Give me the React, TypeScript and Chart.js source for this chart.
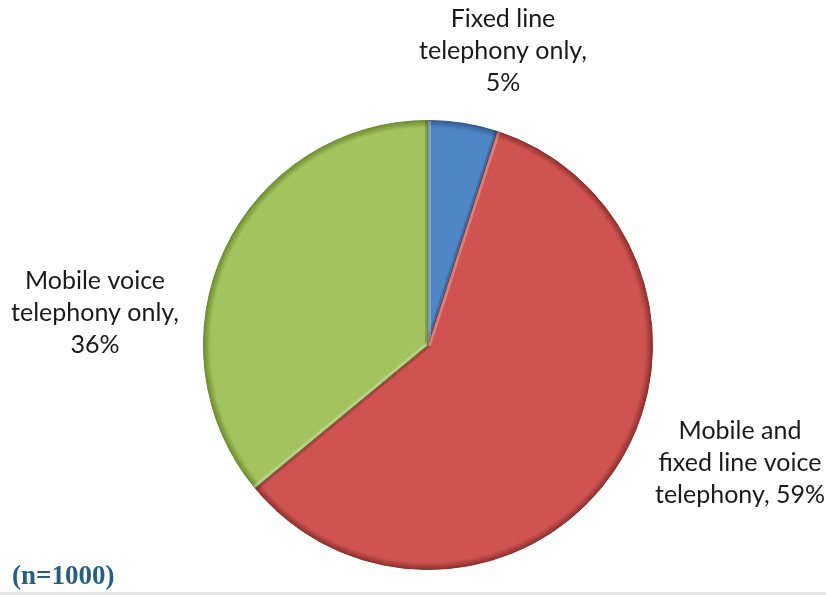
import React, { useEffect, useRef } from "react";
import { Chart, registerables } from "chart.js";

Chart.register(...registerables);

const categories = [
  "Fixed line telephony only",
  "Mobile and fixed line voice telephony",
  "Mobile voice telephony only",
];
const shares = [5, 59, 36];
const labelLines = [
  ["Fixed line", "telephony only,", "5%"],
  ["Mobile and", "fixed line voice", "telephony, 59%"],
  ["Mobile voice", "telephony only,", "36%"],
];
const sliceColors = ["#4F86C6", "#CF5451", "#A3C35F"];
const rimColors = ["#2E5A8E", "#8A2E2C", "#6A8A2E"];
const sampleNote = "(n=1000)";

// label anchor: centre x, first baseline y (layout only)
const labelAnchors = [
  [503, 27],
  [740, 439],
  [95, 289],
];
const LINE_H = 32;

const labelPlugin = {
  id: "freeLabels",
  afterDraw(chart: any) {
    const ctx = chart.ctx;
    ctx.save();
    ctx.fillStyle = "#1a1a1a";
    ctx.font = "25px Lato, 'Noto Sans', sans-serif";
    ctx.textAlign = "center";
    ctx.textBaseline = "alphabetic";
    labelLines.forEach((lines, i) => {
      const [x, y] = labelAnchors[i];
      lines.forEach((t, j) => ctx.fillText(t, x, y + j * LINE_H));
    });
    ctx.restore();
  },
};

const bevelPlugin = {
  id: "bevel",
  afterDatasetsDraw(chart: any) {
    const ctx = chart.ctx;
    const meta = chart.getDatasetMeta(0);
    meta.data.forEach((arc: any, i: number) => {
      const { x, y, startAngle, endAngle, outerRadius } = arc.getProps(
        ["x", "y", "startAngle", "endAngle", "outerRadius"],
        true
      );
      ctx.save();
      ctx.beginPath();
      ctx.moveTo(x, y);
      ctx.arc(x, y, outerRadius, startAngle, endAngle);
      ctx.closePath();
      ctx.clip();
      // edge shading along radial sides
      ctx.lineWidth = 6;
      ctx.strokeStyle = "rgba(0,0,0,0.18)";
      ctx.beginPath();
      ctx.moveTo(x, y);
      ctx.lineTo(x + Math.cos(endAngle) * outerRadius, y + Math.sin(endAngle) * outerRadius);
      ctx.stroke();
      ctx.strokeStyle = "rgba(255,255,255,0.25)";
      ctx.beginPath();
      ctx.moveTo(x, y);
      ctx.lineTo(x + Math.cos(startAngle) * outerRadius, y + Math.sin(startAngle) * outerRadius);
      ctx.stroke();
      ctx.restore();
    });
  },
};

export default function App() {
  const ref = useRef<HTMLCanvasElement | null>(null);
  useEffect(() => {
    if (!ref.current) return;
    const chart = new Chart(ref.current, {
      type: "pie",
      data: {
        labels: categories,
        datasets: [
          {
            data: shares,
            borderWidth: 1,
            borderColor: rimColors,
            backgroundColor: (c: any) => {
              const ch = c.chart;
              const area = ch.chartArea;
              const i = c.dataIndex;
              if (!area || i === undefined) return sliceColors[i ?? 0];
              const cx = (area.left + area.right) / 2;
              const cy = (area.top + area.bottom) / 2;
              const r = Math.min(area.right - area.left, area.bottom - area.top) / 2;
              const g = ch.ctx.createRadialGradient(cx, cy, 0, cx, cy, r);
              g.addColorStop(0, sliceColors[i]);
              g.addColorStop(0.9, sliceColors[i]);
              g.addColorStop(0.965, sliceColors[i]);
              g.addColorStop(1, rimColors[i]);
              return g;
            },
          },
        ],
      },
      options: {
        responsive: false,
        animation: false,
        layout: { padding: { left: 203, right: 173, top: 120, bottom: 25 } },
        plugins: {
          legend: { display: false },
          tooltip: { enabled: false },
        },
      },
      plugins: [bevelPlugin, labelPlugin],
    });
    return () => chart.destroy();
  }, []);

  return (
    <div style={{ position: "absolute", left: 0, top: 0, width: 826, height: 595, background: "#fff" }}>
      <canvas ref={ref} width={826} height={595} style={{ display: "block" }} />
      <div
        style={{
          position: "absolute",
          left: 12,
          top: 559,
          fontFamily: "'Liberation Serif', 'Times New Roman', serif",
          fontWeight: "bold",
          fontSize: 27,
          lineHeight: "32px",
          color: "#245E82",
        }}
      >
        {sampleNote}
      </div>
      <div style={{ position: "absolute", left: 0, top: 592, width: 826, height: 3, background: "#e6e6e6" }} />
    </div>
  );
}
